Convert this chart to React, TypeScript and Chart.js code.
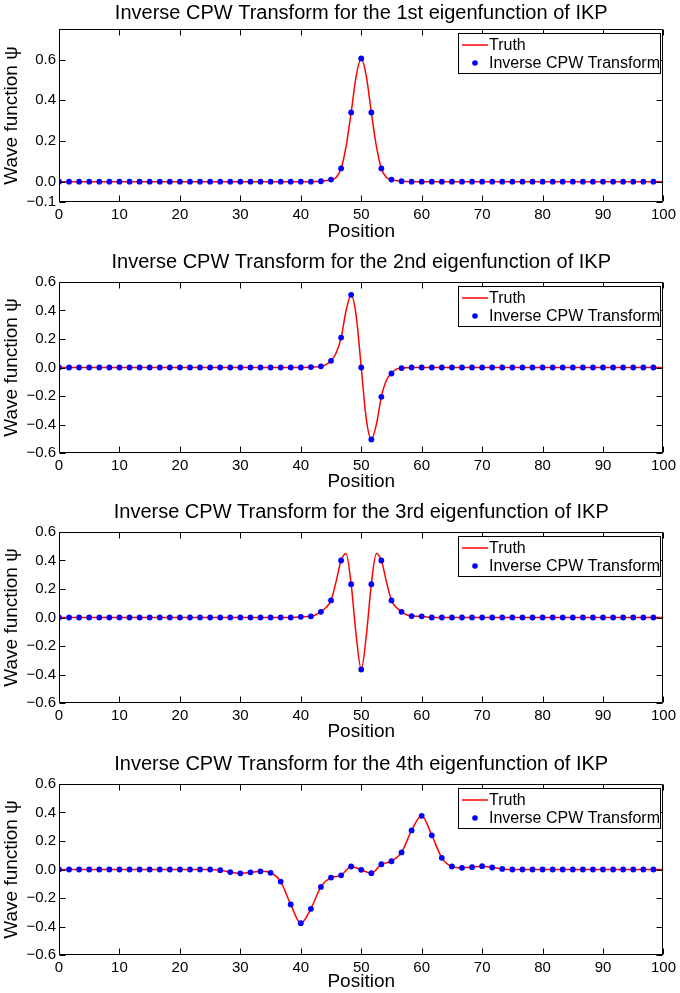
import React, { useEffect, useRef } from "react";
import { Chart, registerables } from "chart.js";

Chart.register(...registerables);

const FONT = '"Liberation Sans", Arial, Helvetica, sans-serif';

// ---------- data ----------
const POSITIONS = [
  0, 1.67, 3.33, 5, 6.67, 8.33, 10, 11.67, 13.33, 15,
  16.67, 18.33, 20, 21.67, 23.33, 25, 26.67, 28.33, 30, 31.67,
  33.33, 35, 36.67, 38.33, 40, 41.67, 43.33, 45, 46.67, 48.33,
  50, 51.67, 53.33, 55, 56.67, 58.33, 60, 61.67, 63.33, 65,
  66.67, 68.33, 70, 71.67, 73.33, 75, 76.67, 78.33, 80, 81.67,
  83.33, 85, 86.67, 88.33, 90, 91.67, 93.33, 95, 96.67, 98.33,
];

const PSI_1 = [
  0, 0, 0, 0, 0, 0, 0, 0, 0, 0,
  0, 0, 0, 0, 0, 0, 0, 0, 0, 0,
  0, 0, 0, 0, 0, 0, 0.002, 0.01, 0.065, 0.34,
  0.605, 0.34, 0.065, 0.01, 0.002, 0, 0, 0, 0, 0,
  0, 0, 0, 0, 0, 0, 0, 0, 0, 0,
  0, 0, 0, 0, 0, 0, 0, 0, 0, 0,
];
const PSI_2 = [
  0, 0, 0, 0, 0, 0, 0, 0, 0, 0,
  0, 0, 0, 0, 0, 0, 0, 0, 0, 0,
  0, 0, 0, 0, 0, 0.003, 0.008, 0.047, 0.21, 0.51,
  0, -0.505, -0.206, -0.042, -0.004, 0, 0, 0, 0, 0,
  0, 0, 0, 0, 0, 0, 0, 0, 0, 0,
  0, 0, 0, 0, 0, 0, 0, 0, 0, 0,
];
const PSI_3 = [
  0, 0, 0, 0, 0, 0, 0, 0, 0, 0,
  0, 0, 0, 0, 0, 0, 0, 0, 0, 0,
  0, 0, 0, 0, 0.005, 0.008, 0.04, 0.12, 0.4, 0.234,
  -0.365, 0.234, 0.4, 0.12, 0.04, 0.01, 0.008, 0, 0, 0,
  0, 0, 0, 0, 0, 0, 0, 0, 0, 0,
  0, 0, 0, 0, 0, 0, 0, 0, 0, 0,
];
const PSI_4 = [
  0, 0, 0, 0, 0, 0, 0, 0, 0, 0,
  0, 0, 0, 0, 0, 0, -0.005, -0.018, -0.027, -0.02,
  -0.013, -0.023, -0.085, -0.245, -0.377, -0.276, -0.122, -0.057, -0.041, 0.021,
  -0.002, -0.026, 0.037, 0.058, 0.12, 0.274, 0.377, 0.24, 0.082, 0.021,
  0.012, 0.016, 0.023, 0.014, 0.004, 0, 0, 0, 0, 0,
  0, 0, 0, 0, 0, 0, 0, 0, 0, 0,
];

// extra samples of the continuous "Truth" curve (between the dots)
const TRUTH_X_1 = [45.83, 47.5, 49.17, 50.83, 52.5, 54.17, 100];
const TRUTH_Y_1 = [0.02, 0.175, 0.52, 0.52, 0.175, 0.02, 0];
const TRUTH_X_2 = [44.17, 45.83, 47.5, 49.17, 50.83, 52.5, 54.17, 55.83, 100];
const TRUTH_Y_2 = [0.02, 0.1, 0.4, 0.36, -0.36, -0.4, -0.09, -0.012, 0];
const TRUTH_X_3 = [44.17, 45.83, 47.5, 49.17, 50.83, 52.5, 54.17, 55.83, 100];
const TRUTH_Y_3 = [0.07, 0.25, 0.45, -0.13, -0.13, 0.45, 0.25, 0.07, 0];
const TRUTH_X_4 = [100];
const TRUTH_Y_4 = [0];

const TITLES = [
  "Inverse CPW Transform for the 1st eigenfunction of IKP",
  "Inverse CPW Transform for the 2nd eigenfunction of IKP",
  "Inverse CPW Transform for the 3rd eigenfunction of IKP",
  "Inverse CPW Transform for the 4th eigenfunction of IKP",
];
const X_TICKS = [0, 10, 20, 30, 40, 50, 60, 70, 80, 90, 100];
const Y_TICKS_1 = [-0.1, 0, 0.2, 0.4, 0.6];
const Y_TICKS = [-0.6, -0.4, -0.2, 0, 0.2, 0.4, 0.6];
const X_LABEL = "Position";
const Y_LABEL = "Wave function \u03C8";
const LEGEND_TRUTH = "Truth";
const LEGEND_DOTS = "Inverse CPW Transform";

const RED = "#ff0000";
const BLUE = "#0000ff";

// ---------- layout ----------
const PANELS = [
  { top: 0, h: 250, plotTop: 29, plotBottom: 202, titleY: 13, yMin: -0.1, yMax: 0.75, yTicks: Y_TICKS_1, dots: PSI_1, tx: TRUTH_X_1, ty: TRUTH_Y_1 },
  { top: 250, h: 250, plotTop: 32, plotBottom: 203, titleY: 12, yMin: -0.6, yMax: 0.6, yTicks: Y_TICKS, dots: PSI_2, tx: TRUTH_X_2, ty: TRUTH_Y_2 },
  { top: 500, h: 250, plotTop: 32, plotBottom: 203, titleY: 12, yMin: -0.6, yMax: 0.6, yTicks: Y_TICKS, dots: PSI_3, tx: TRUTH_X_3, ty: TRUTH_Y_3 },
  { top: 750, h: 243, plotTop: 34, plotBottom: 205, titleY: 14, yMin: -0.6, yMax: 0.6, yTicks: Y_TICKS, dots: PSI_4, tx: TRUTH_X_4, ty: TRUTH_Y_4 },
];
const X_LABEL_CENTER = 232;

function fmtY(v: number) {
  const s = Math.abs(v).toFixed(1);
  return v < -1e-9 ? "\u2212" + s : s;
}

const decoPlugin = {
  id: "deco",
  afterDraw(chart: any, _args: any, opts: any) {
    const { ctx, chartArea: a, scales } = chart;
    ctx.save();
    // frame + inward ticks on all four sides
    ctx.strokeStyle = "#000";
    ctx.lineWidth = 1;
    const L = Math.round(a.left) + 0.5;
    const R = Math.round(a.right) - 0.5;
    const T = Math.round(a.top) + 0.5;
    const B = Math.round(a.bottom) - 0.5;
    ctx.beginPath();
    ctx.moveTo(L, T);
    ctx.lineTo(R, T);
    ctx.lineTo(R, B);
    ctx.lineTo(L, B);
    ctx.closePath();
    const tl = 6;
    scales.x.ticks.forEach((t: any) => {
      const px = Math.round(scales.x.getPixelForValue(t.value)) + 0.5;
      ctx.moveTo(px, B);
      ctx.lineTo(px, B - tl);
      ctx.moveTo(px, T);
      ctx.lineTo(px, T + tl);
    });
    scales.y.ticks.forEach((t: any) => {
      const py = Math.round(scales.y.getPixelForValue(t.value)) + 0.5;
      ctx.moveTo(L, py);
      ctx.lineTo(L + tl, py);
      ctx.moveTo(R, py);
      ctx.lineTo(R - tl, py);
    });
    ctx.stroke();
    // title
    ctx.fillStyle = "#000";
    ctx.font = `20px ${FONT}`;
    ctx.textAlign = "center";
    ctx.textBaseline = "middle";
    ctx.fillText(opts.title, (a.left + a.right) / 2, opts.titleY);
    // legend
    const lr = Math.round(a.right) - 3;
    const lx = Math.round(a.right) - 205;
    const lt = Math.round(a.top) + 4;
    const lh = 40;
    ctx.fillStyle = "#fff";
    ctx.fillRect(lx, lt, lr - lx, lh);
    ctx.strokeStyle = "#000";
    ctx.lineWidth = 1;
    ctx.strokeRect(lx + 0.5, lt + 0.5, lr - lx, lh);
    const r1 = lt + 12;
    const r2 = lt + 30;
    ctx.strokeStyle = RED;
    ctx.lineWidth = 1.5;
    ctx.beginPath();
    ctx.moveTo(lx + 4, r1);
    ctx.lineTo(lx + 30, r1);
    ctx.stroke();
    ctx.fillStyle = BLUE;
    ctx.beginPath();
    ctx.arc(lx + 17, r2, 2.8, 0, Math.PI * 2);
    ctx.fill();
    ctx.fillStyle = "#000";
    ctx.font = `16px ${FONT}`;
    ctx.textAlign = "left";
    ctx.fillText(opts.legendTruth, lx + 31, r1 + 1);
    ctx.fillText(opts.legendDots, lx + 31, r2 + 1);
    ctx.restore();
  },
};

function Panel({ idx }: { idx: number }) {
  const ref = useRef<HTMLCanvasElement | null>(null);
  const p = PANELS[idx];
  useEffect(() => {
    const dots = POSITIONS.map((x, i) => ({ x, y: p.dots[i] }));
    const truth = dots
      .concat(p.tx.map((x, i) => ({ x, y: p.ty[i] })))
      .sort((u, v) => u.x - v.x);
    const xTitlePad = Math.max(0, p.h - X_LABEL_CENTER - 19 * 1.2 / 2);
    const chart = new Chart(ref.current as HTMLCanvasElement, {
      type: "scatter",
      data: {
        datasets: [
          {
            label: LEGEND_DOTS,
            data: dots,
            showLine: false,
            pointRadius: 2.9,
            pointBorderWidth: 0,
            backgroundColor: BLUE,
            borderColor: BLUE,
            order: 0,
          } as any,
          {
            label: LEGEND_TRUTH,
            data: truth,
            showLine: true,
            pointRadius: 0,
            borderColor: RED,
            backgroundColor: RED,
            borderWidth: 1.5,
            cubicInterpolationMode: "monotone",
            order: 1,
          } as any,
        ],
      },
      options: {
        animation: false,
        responsive: false,
        devicePixelRatio: 1,
        events: [],
        layout: { padding: { left: 0, right: 680 - 665, top: p.plotTop, bottom: 0 } },
        plugins: {
          legend: { display: false },
          tooltip: { enabled: false },
          title: { display: false },
          deco: {
            title: TITLES[idx],
            titleY: p.titleY,
            legendTruth: LEGEND_TRUTH,
            legendDots: LEGEND_DOTS,
          },
        } as any,
        scales: {
          x: {
            type: "linear",
            min: 0,
            max: 100,
            afterBuildTicks: (s: any) => {
              s.ticks = X_TICKS.map((v) => ({ value: v }));
            },
            afterFit: (s: any) => {
              s.height = p.h - p.plotBottom;
            },
            ticks: {
              color: "#000",
              font: { size: 15, family: FONT },
              padding: 4,
              maxRotation: 0,
              autoSkip: false,
              callback: (v: any) => String(v),
            },
            grid: { display: false, drawTicks: false },
            border: { display: false },
            title: {
              display: true,
              text: X_LABEL,
              color: "#000",
              font: { size: 19, family: FONT },
              padding: { top: 0, bottom: xTitlePad },
            },
          },
          y: {
            type: "linear",
            min: p.yMin,
            max: p.yMax,
            afterBuildTicks: (s: any) => {
              s.ticks = p.yTicks.map((v) => ({ value: v }));
            },
            afterFit: (s: any) => {
              s.width = 59;
            },
            ticks: {
              color: "#000",
              font: { size: 15, family: FONT },
              padding: 3,
              autoSkip: false,
              callback: (v: any) => fmtY(Number(v)),
            },
            grid: { display: false, drawTicks: false },
            border: { display: false },
            title: {
              display: true,
              text: Y_LABEL,
              color: "#000",
              font: { size: 19, family: FONT },
              padding: { top: 0, bottom: 0 },
            },
          },
        },
      },
      plugins: [decoPlugin],
    } as any);
    return () => chart.destroy();
  }, []);
  return (
    <canvas
      ref={ref}
      width={680}
      height={p.h}
      style={{ position: "absolute", left: 0, top: p.top, display: "block", width: 680, height: p.h }}
    />
  );
}

export default function App() {
  return (
    <div style={{ position: "absolute", left: 0, top: 0, width: 680, height: 993, background: "#fff", overflow: "hidden" }}>
      {PANELS.map((_, i) => (
        <Panel key={i} idx={i} />
      ))}
    </div>
  );
}
